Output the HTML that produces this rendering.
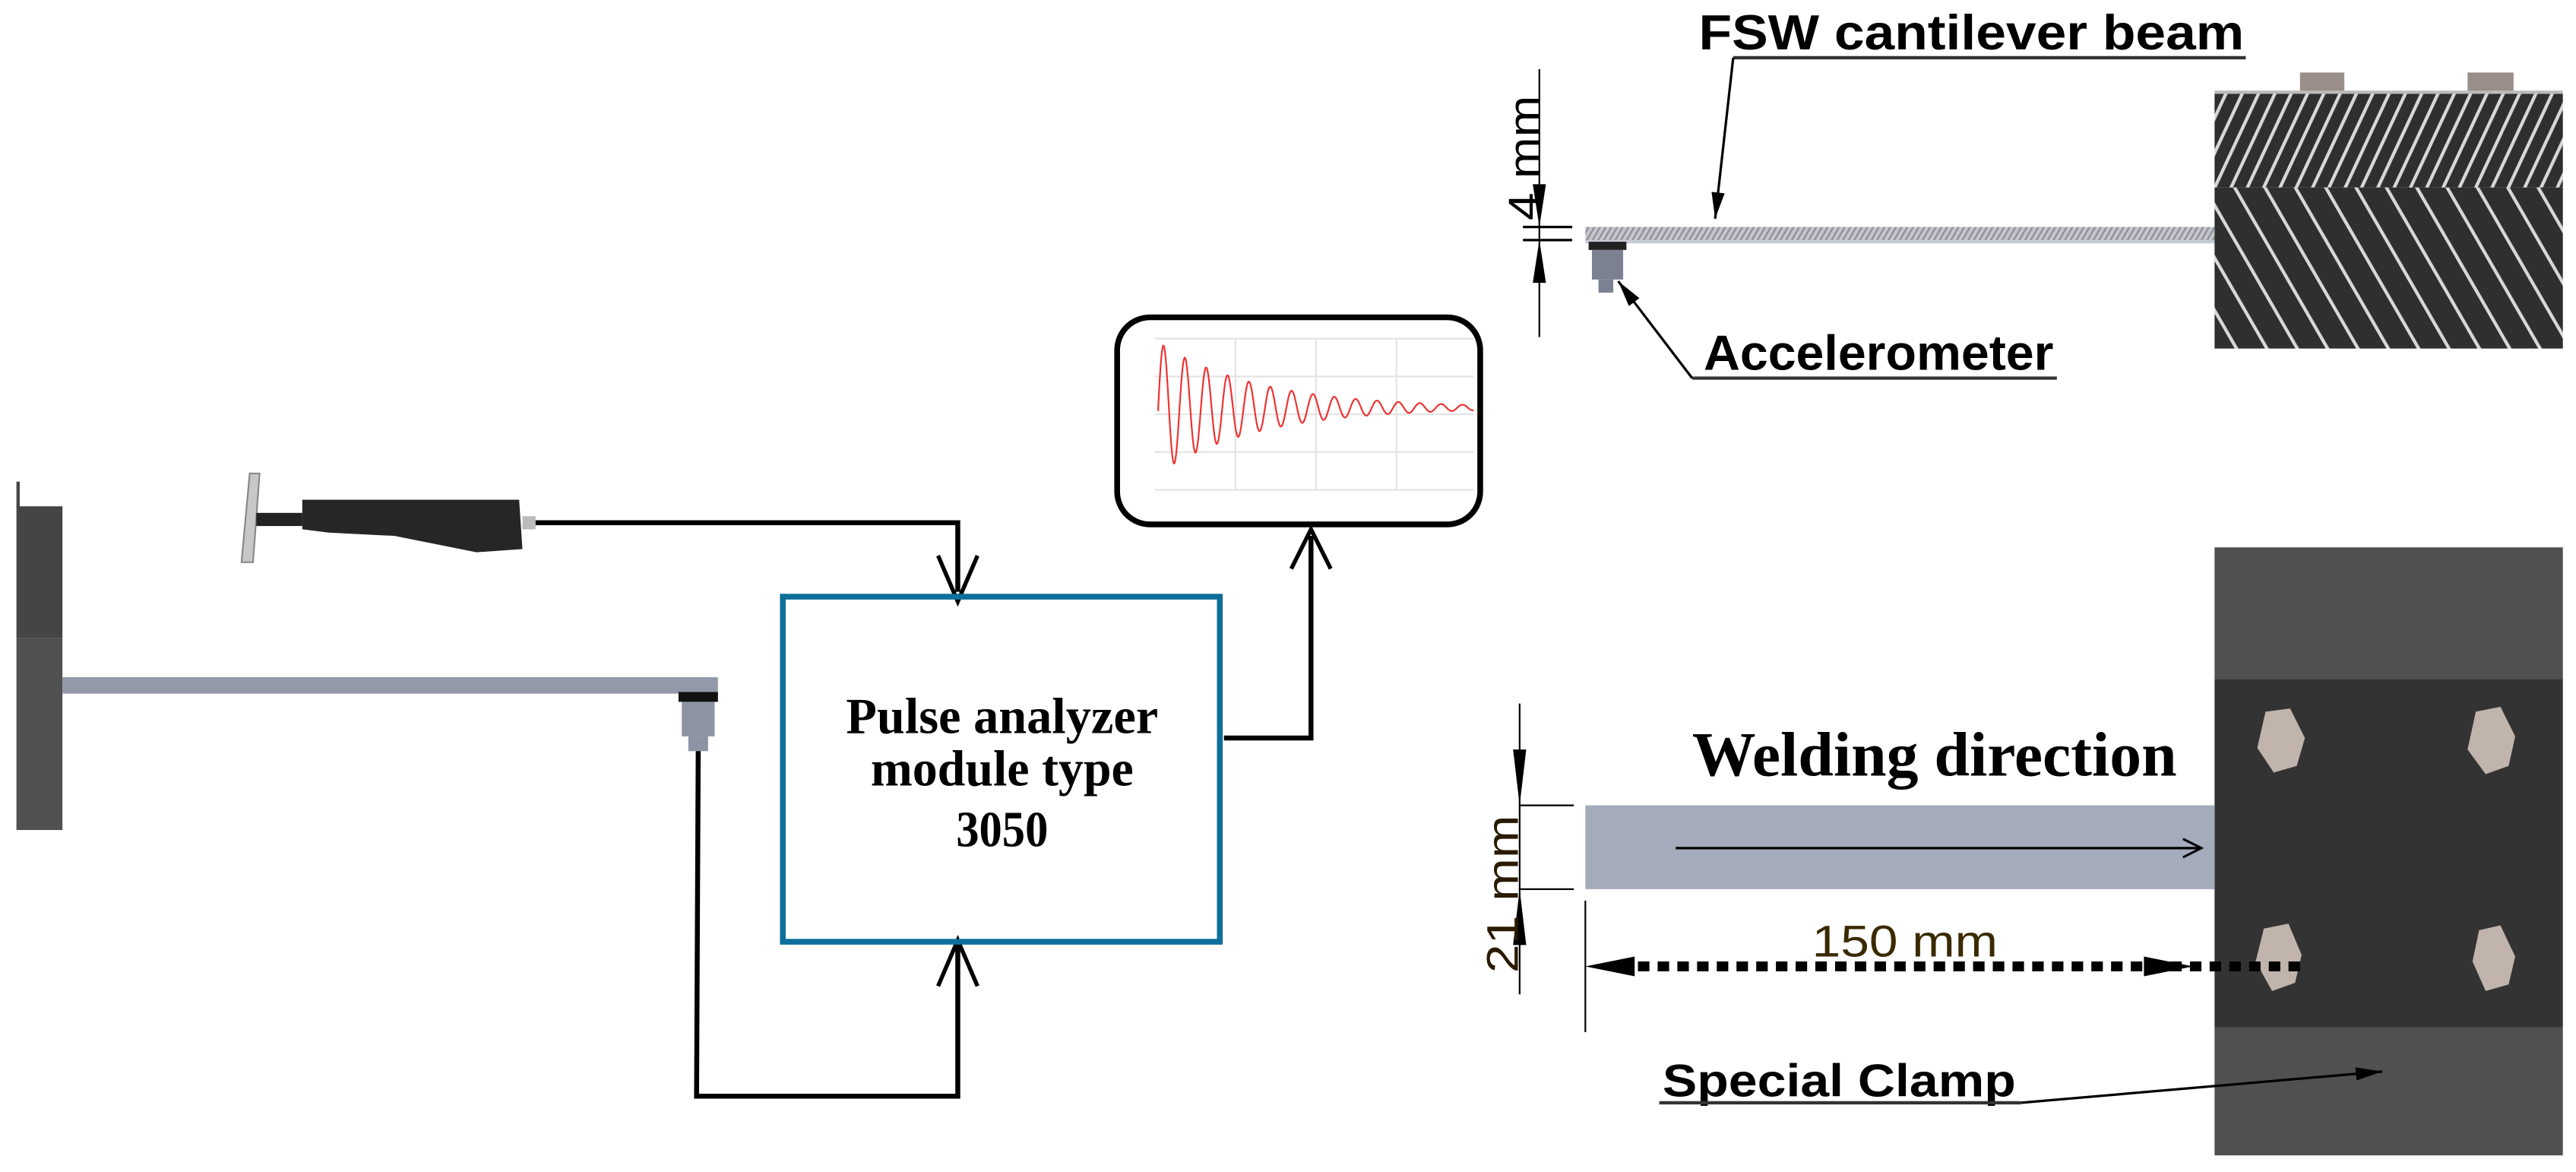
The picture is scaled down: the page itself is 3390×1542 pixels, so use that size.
<!DOCTYPE html>
<html><head><meta charset="utf-8"><style>
html,body{margin:0;padding:0;background:#fff;}
svg{display:block;}
</style></head><body>
<svg width="3390" height="1542" viewBox="0 0 1568 713" xmlns="http://www.w3.org/2000/svg">
<defs>
<pattern id="h1" width="9" height="9" patternUnits="userSpaceOnUse" patternTransform="rotate(25)">
<rect width="9" height="9" fill="#2f2f2f"/><rect width="2" height="9" fill="#d8d8d8"/></pattern>
<pattern id="h2" width="16" height="16" patternUnits="userSpaceOnUse" patternTransform="rotate(-30)">
<rect width="16" height="16" fill="#2f2f2f"/><rect width="2" height="16" fill="#d8d8d8"/></pattern>
<pattern id="hb" width="3" height="3" patternUnits="userSpaceOnUse" patternTransform="rotate(30)">
<rect width="3" height="3" fill="#c4c6cc"/><rect width="1" height="3" fill="#8a8d96"/></pattern>
<marker id="ao" viewBox="0 0 20 20" refX="18" refY="10" markerWidth="14" markerHeight="14" orient="auto" markerUnits="userSpaceOnUse"><path d="M2,2 L18,10 L2,18" fill="none" stroke="#000" stroke-width="2"/></marker>
<marker id="af" viewBox="0 0 20 10" refX="20" refY="5" markerWidth="20" markerHeight="8" orient="auto" markerUnits="userSpaceOnUse"><path d="M0,0 L20,5 L0,10 Z" fill="#000"/></marker>
</defs>

<rect x="10" y="293" width="2" height="16" fill="#444"/>
<rect x="10" y="308" width="28" height="80" fill="#454545"/>
<rect x="10" y="388" width="28" height="117" fill="#505050"/>
<rect x="38" y="412" width="399" height="10" fill="#9399a8"/>
<rect x="413" y="421" width="24" height="6" fill="#111"/>
<rect x="415" y="427" width="20" height="21" fill="#8d93a3"/>
<rect x="419" y="448" width="12" height="9" fill="#8d93a3"/>

<polygon points="152,288 158,288 154,342 147,342" fill="#c8c8c8" stroke="#888" stroke-width="1"/>
<rect x="156" y="312" width="28" height="8" fill="#222"/>
<polygon points="184,304 316,304 318,334 290,336 240,326 200,324 184,322" fill="#262626"/>
<rect x="318" y="314" width="8" height="8" fill="#bbb"/>

<polyline points="326,318 583,318 583,360" fill="none" stroke="#000" stroke-width="3"/>
<path d="M571,338 L583,366 L595,338" fill="none" stroke="#000" stroke-width="2.5"/>
<polyline points="425,457 424,667 583,667 583,575" fill="none" stroke="#000" stroke-width="3"/>
<path d="M571,600 L583,572 L595,600" fill="none" stroke="#000" stroke-width="2.5"/>

<rect x="476.5" y="363" width="266" height="210" fill="none" stroke="#0e6f9a" stroke-width="3.5"/>
<g font-family="'Liberation Serif',serif" font-weight="bold" font-size="31" text-anchor="middle" fill="#000" lengthAdjust="spacingAndGlyphs">
<text x="610" y="446" textLength="190" lengthAdjust="spacingAndGlyphs">Pulse analyzer</text>
<text x="610" y="478" textLength="160" lengthAdjust="spacingAndGlyphs">module type</text>
<text x="610" y="515" textLength="56" lengthAdjust="spacingAndGlyphs">3050</text>
</g>
<polyline points="745,449 798,449 798,326" fill="none" stroke="#000" stroke-width="3"/>
<path d="M786,346 L798,322 L810,346" fill="none" stroke="#000" stroke-width="2.5"/>

<rect x="680" y="193" width="221" height="126" rx="20" fill="#fff" stroke="#000" stroke-width="3.5"/>
<g stroke="#e3e3e3" stroke-width="1">
<line x1="703" y1="206" x2="897" y2="206"/><line x1="703" y1="229" x2="897" y2="229"/>
<line x1="703" y1="252" x2="897" y2="252"/><line x1="703" y1="275" x2="897" y2="275"/>
<line x1="703" y1="298" x2="897" y2="298"/>
<line x1="752" y1="206" x2="752" y2="298"/><line x1="801" y1="206" x2="801" y2="298"/><line x1="850" y1="206" x2="850" y2="298"/>
</g>
<path id="sig" d="M705,250" fill="none" stroke="#f03030" stroke-width="1"/>

<text x="1034" y="30" font-family="'Liberation Sans',sans-serif" font-weight="bold" font-size="30" fill="#000" textLength="332" lengthAdjust="spacingAndGlyphs">FSW cantilever beam</text>
<line x1="1055" y1="35" x2="1367" y2="35" stroke="#333" stroke-width="2"/>
<line x1="1055" y1="35" x2="1044" y2="133" stroke="#000" stroke-width="1.5" marker-end="url(#af)"/>
<line x1="937" y1="42" x2="937" y2="205" stroke="#000" stroke-width="1"/>
<line x1="927" y1="138" x2="957" y2="138" stroke="#000" stroke-width="1.5"/>
<line x1="927" y1="146" x2="957" y2="146" stroke="#000" stroke-width="1.5"/>
<polygon points="933,112 941,112 937,138" fill="#000"/>
<polygon points="933,172 941,172 937,146" fill="#000"/>
<text transform="translate(937,134) rotate(-90)" font-family="'Liberation Sans',sans-serif" font-size="27" fill="#000" textLength="76" lengthAdjust="spacingAndGlyphs">4 mm</text>
<rect x="965" y="138" width="383" height="9" fill="url(#hb)"/>
<rect x="965" y="146" width="383" height="2" fill="#c8ccd6"/>
<rect x="967" y="147" width="23" height="5" fill="#222"/>
<rect x="969" y="152" width="19" height="18" fill="#7c8192"/>
<rect x="973" y="170" width="9" height="8" fill="#7c8192"/>
<line x1="1030" y1="230" x2="985" y2="171" stroke="#000" stroke-width="1.5" marker-end="url(#af)"/>
<line x1="1030" y1="230" x2="1252" y2="230" stroke="#333" stroke-width="2"/>
<text x="1037" y="225" font-family="'Liberation Sans',sans-serif" font-weight="bold" font-size="30" fill="#000" textLength="213" lengthAdjust="spacingAndGlyphs">Accelerometer</text>
<rect x="1400" y="44" width="27" height="12" fill="#9a8f88"/>
<rect x="1502" y="44" width="28" height="12" fill="#9a8f88"/>
<rect x="1348" y="55" width="212" height="2" fill="#bbb"/>
<rect x="1348" y="57" width="212" height="57" fill="url(#h1)"/>
<rect x="1348" y="114" width="212" height="98" fill="url(#h2)"/>

<rect x="1348" y="333" width="212" height="80" fill="#505050"/>
<rect x="1348" y="413" width="212" height="212" fill="#333"/>
<rect x="1348" y="625" width="212" height="78" fill="#505050"/>
<g fill="#c0b4ac">
<polygon points="1379,433 1394,431 1403,449 1398,466 1384,470 1374,455"/>
<polygon points="1507,433 1522,430 1531,448 1527,466 1513,471 1502,456"/>
<polygon points="1378,565 1393,562 1401,581 1397,598 1383,603 1373,585"/>
<polygon points="1509,566 1522,563 1531,582 1527,599 1513,603 1505,585"/>
</g>
<rect x="965" y="490" width="383" height="51" fill="#a4abbb"/>
<line x1="1020" y1="516" x2="1340" y2="516" stroke="#000" stroke-width="1.5" marker-end="url(#ao)"/>
<text x="1030" y="472" font-family="'Liberation Serif',serif" font-weight="bold" font-size="38" fill="#000" textLength="295" lengthAdjust="spacingAndGlyphs">Welding direction</text>
<line x1="925" y1="428" x2="925" y2="605" stroke="#000" stroke-width="1"/>
<line x1="925" y1="490" x2="958" y2="490" stroke="#000" stroke-width="1"/>
<line x1="925" y1="541" x2="958" y2="541" stroke="#000" stroke-width="1"/>
<polygon points="921,456 929,456 925,490" fill="#000"/>
<polygon points="921,575 929,575 925,541" fill="#000"/>
<text transform="translate(924,592) rotate(-90)" font-family="'Liberation Sans',sans-serif" font-size="27" fill="#2a1a00" textLength="96" lengthAdjust="spacingAndGlyphs">21 mm</text>
<line x1="965" y1="548" x2="965" y2="628" stroke="#000" stroke-width="1"/>
<line x1="985" y1="588" x2="1400" y2="588" stroke="#000" stroke-width="6" stroke-dasharray="7,5"/>
<polygon points="965,588 995,582 995,594" fill="#000"/>
<polygon points="1335,588 1305,582 1305,594" fill="#000"/>
<text x="1103" y="582" font-family="'Liberation Sans',sans-serif" font-size="27" fill="#3a2a00" textLength="113" lengthAdjust="spacingAndGlyphs">150 mm</text>
<text x="1012" y="667" font-family="'Liberation Sans',sans-serif" font-weight="bold" font-size="28" fill="#000" textLength="215" lengthAdjust="spacingAndGlyphs">Special Clamp</text>
<line x1="1010" y1="671" x2="1230" y2="671" stroke="#333" stroke-width="2"/>
<line x1="1230" y1="671" x2="1450" y2="652" stroke="#000" stroke-width="1.5" marker-end="url(#af)"/>
</svg>
<script>
var d="M705,250";for(var x=705;x<=897;x+=0.5){var t=x-705;var y=250-40*Math.exp(-t/60)*Math.sin(t*2*Math.PI/13)-2;d+=" L"+x+","+y.toFixed(2);}
document.getElementById("sig").setAttribute("d",d);
</script>
</body></html>
